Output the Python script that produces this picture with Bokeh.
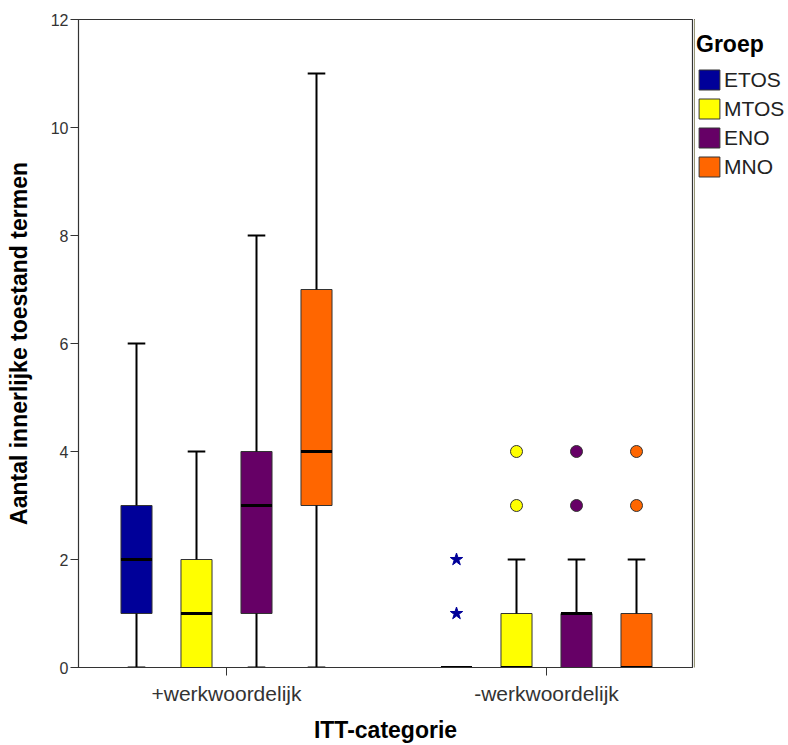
from bokeh.plotting import figure
from bokeh.layouts import row
from bokeh.models import Range1d, FixedTicker, Legend, LegendItem
from bokeh.embed import file_html
from bokeh.resources import INLINE

# ---- data ----
categories = ["+werkwoordelijk", "-werkwoordelijk"]
groups = ["ETOS", "MTOS", "ENO", "MNO"]
colors = ["#000099", "#ffff00", "#660066", "#ff6600"]

# per group: values for [+werkwoordelijk, -werkwoordelijk]
lower_whisker = {"ETOS": [0, 0], "MTOS": [0, 0], "ENO": [0, 0], "MNO": [0, 0]}
q1 = {"ETOS": [1, 0], "MTOS": [0, 0], "ENO": [1, 0], "MNO": [3, 0]}
median = {"ETOS": [2, 0], "MTOS": [1, 0], "ENO": [3, 1], "MNO": [4, 0]}
q3 = {"ETOS": [3, 0], "MTOS": [2, 1], "ENO": [4, 1], "MNO": [7, 1]}
upper_whisker = {"ETOS": [6, 0], "MTOS": [4, 2], "ENO": [8, 2], "MNO": [11, 2]}
# outliers (circles) and extremes (stars): (category index, value)
outliers = {"ETOS": [], "MTOS": [(1, 3), (1, 4)], "ENO": [(1, 3), (1, 4)], "MNO": [(1, 3), (1, 4)]}
extremes = {"ETOS": [(1, 1), (1, 2)], "MTOS": [], "ENO": [], "MNO": []}

y_ticks = [0, 2, 4, 6, 8, 10, 12]

# ---- geometry (layout only) ----
group_step = 0.1875
box_w = 0.097
cap_w = 0.055

p = figure(width=694, height=745, output_backend="svg", toolbar_location=None,
           x_range=Range1d(0.5375, 2.45625), y_range=Range1d(0, 12),
           min_border_left=78, min_border_top=19, min_border_bottom=78, min_border_right=2)
p.xgrid.visible = False
p.ygrid.visible = False
p.outline_line_color = "#333333"
p.outline_line_width = 1.2
p.background_fill_color = "white"
p.border_fill_color = "white"

for gi, g in enumerate(groups):
    off = (gi - 1.5) * group_step
    xs = [ci + 1 + off for ci in range(len(categories))]
    p.vbar(x=xs, top=q3[g], bottom=q1[g], width=box_w, fill_color=colors[gi],
           line_color="#333333", line_width=1)
    # whiskers
    wx, wy0, wy1 = [], [], []
    cx0, cx1, cy = [], [], []
    for ci, x in enumerate(xs):
        if upper_whisker[g][ci] > q3[g][ci]:
            wx.append(x); wy0.append(q3[g][ci]); wy1.append(upper_whisker[g][ci])
            cx0.append(x - cap_w / 2); cx1.append(x + cap_w / 2); cy.append(upper_whisker[g][ci])
        if lower_whisker[g][ci] < q1[g][ci]:
            wx.append(x); wy0.append(q1[g][ci]); wy1.append(lower_whisker[g][ci])
            cx0.append(x - cap_w / 2); cx1.append(x + cap_w / 2); cy.append(lower_whisker[g][ci])
    p.segment(x0=wx, y0=wy0, x1=wx, y1=wy1, line_color="black", line_width=2)
    p.segment(x0=cx0, y0=cy, x1=cx1, y1=cy, line_color="black", line_width=2)
    # median
    p.segment(x0=[x - box_w / 2 for x in xs], y0=median[g], x1=[x + box_w / 2 for x in xs],
              y1=median[g], line_color="black", line_width=3)
    # outliers
    if outliers[g]:
        p.scatter(x=[ci + 1 + off for ci, v in outliers[g]], y=[v for ci, v in outliers[g]],
                  marker="circle", size=12, fill_color=colors[gi], line_color="#333333", line_width=1)
    if extremes[g]:
        p.scatter(x=[ci + 1 + off for ci, v in extremes[g]], y=[v for ci, v in extremes[g]],
                  marker="star", size=13, fill_color=colors[gi], line_color=colors[gi], line_width=1)

# axes
p.xaxis.ticker = FixedTicker(ticks=[i + 1 for i in range(len(categories))])
p.xaxis.major_label_overrides = {i + 1: c for i, c in enumerate(categories)}
p.xaxis.minor_tick_line_color = None
p.xaxis.major_tick_out = 8
p.xaxis.major_tick_in = 0
p.xaxis.axis_line_color = "#333333"
p.xaxis.major_tick_line_color = "#333333"
p.xaxis.major_label_text_font = "Liberation Sans"
p.xaxis.major_label_text_font_size = "21px"
p.xaxis.major_label_text_color = "#333333"
p.xaxis.major_label_standoff = 6
p.xaxis.axis_label = "ITT-categorie"
p.xaxis.axis_label_text_font = "Liberation Sans"
p.xaxis.axis_label_text_font_size = "23px"
p.xaxis.axis_label_text_font_style = "bold"
p.xaxis.axis_label_text_color = "black"
p.xaxis.axis_label_standoff = 9

p.yaxis.ticker = FixedTicker(ticks=y_ticks)
p.yaxis.minor_tick_line_color = None
p.yaxis.major_tick_out = 8
p.yaxis.major_tick_in = 0
p.yaxis.axis_line_color = "#333333"
p.yaxis.major_tick_line_color = "#333333"
p.yaxis.major_label_text_font = "Liberation Sans"
p.yaxis.major_label_text_font_size = "16px"
p.yaxis.major_label_text_color = "#333333"
p.yaxis.major_label_standoff = 2
p.yaxis.axis_label = "Aantal innerlijke toestand termen"
p.yaxis.axis_label_text_font = "Liberation Sans"
p.yaxis.axis_label_text_font_size = "23px"
p.yaxis.axis_label_text_font_style = "bold"
p.yaxis.axis_label_text_color = "black"
p.yaxis.axis_label_standoff = 16

# ---- legend panel (separate small figure; proxy glyphs lie outside its visible range) ----
lf = figure(width=94, height=745, output_backend="svg", toolbar_location=None,
            x_axis_location=None, y_axis_location=None, min_border=0,
            x_range=Range1d(0, 1), y_range=Range1d(0, 1))
lf.grid.visible = False
lf.outline_line_color = None
legend_items = []
for gi, g in enumerate(groups):
    r = lf.vbar(x=[-10], top=[q3[g][0]], bottom=[q1[g][0]], width=0.1, fill_color=colors[gi],
                line_color="#333333", line_width=1)
    legend_items.append(LegendItem(label=g, renderers=[r]))

legend = Legend(items=legend_items, location=(2, 745 - 29 - 148 - 80), title="Groep")
legend.title_text_font = "Liberation Sans"
legend.title_text_font_size = "23px"
legend.title_text_font_style = "bold"
legend.title_text_color = "black"
legend.title_standoff = 9
legend.label_text_font = "Liberation Sans"
legend.label_text_font_size = "21px"
legend.label_text_color = "#222222"
legend.glyph_width = 26
legend.glyph_height = 25
legend.label_standoff = 2
legend.spacing = 4
legend.padding = 0
legend.margin = 0
legend.border_line_color = None
legend.background_fill_alpha = 0
lf.add_layout(legend, "center")

layout = row(p, lf)
open("out.html", "w").write(file_html(layout, INLINE))
